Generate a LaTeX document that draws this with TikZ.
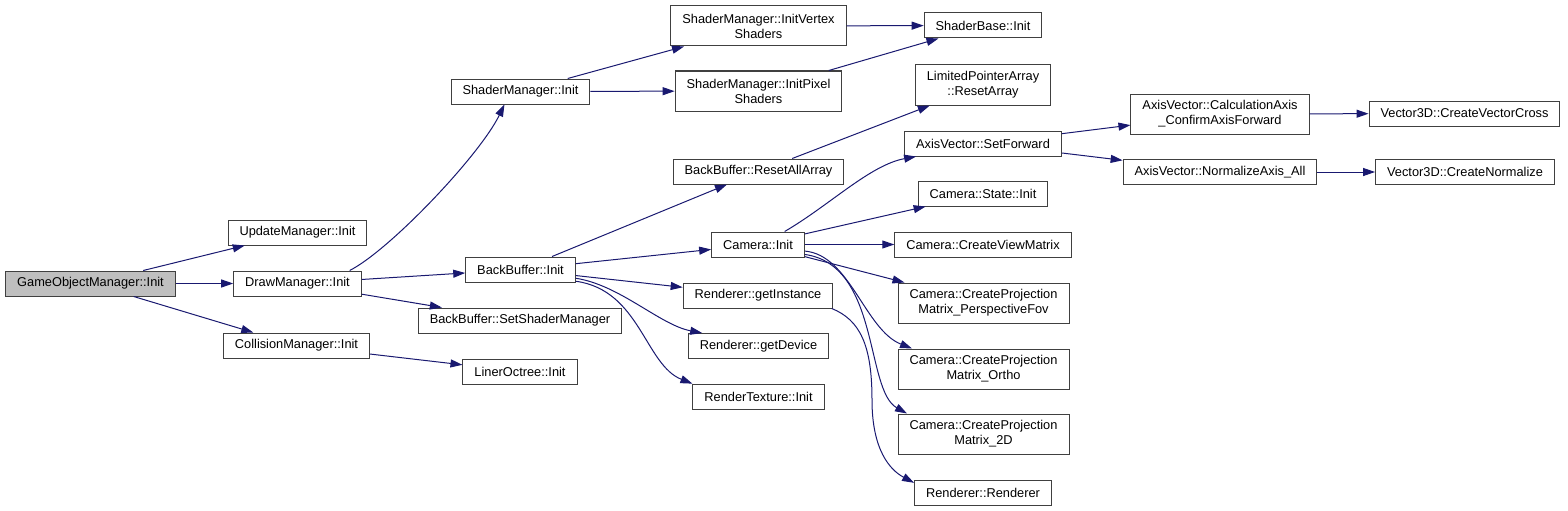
\documentclass[tikz,border=0pt]{standalone}
\usepackage{fontspec}
\setmainfont{Liberation Sans}
\usepackage{tikz}
\usetikzlibrary{arrows.meta,positioning}
\definecolor{edgeblue}{RGB}{25,25,112}
\definecolor{boxline}{RGB}{64,64,64}
\definecolor{rootgray}{RGB}{191,191,191}
\tikzset{
  fnbox/.style={rectangle,draw=boxline,fill=white,line width=1pt,inner xsep=11.5pt,inner ysep=1pt,
    minimum height=25pt,align=center,font=\fontsize{12.8}{15}\selectfont},
  fnboxtwo/.style={fnbox,minimum height=40pt},
  rootbox/.style={fnbox,fill=rootgray},
  callarr/.style={-{Triangle[length=12pt,width=8pt]},line width=1pt,color=edgeblue}
}

\begin{document}
\begin{tikzpicture}[x=1pt,y=-1pt]
  \useasboundingbox (0,0) rectangle (1568,511);

  %% Caller and first level
  \node[rootbox] (gom) at (90.5,283.5) {GameObjectManager::Init};
  \node[fnbox] (updm) at (297.5,232.5) {UpdateManager::Init};
  \node[fnbox] (drawm) at (297.5,283.5) {DrawManager::Init};
  \node[fnbox] (collm) at (296.5,345.5) {CollisionManager::Init};

  %% Second level
  \node[fnbox] (shdm) at (520.5,91.5) {ShaderManager::Init};
  \node[fnbox] (bbinit) at (520.5,269.5) {BackBuffer::Init};
  \node[fnbox] (bbsetshd) at (520,320.5) {BackBuffer::SetShaderManager};
  \node[fnbox] (octree) at (520,371.5) {LinerOctree::Init};

  %% Third level
  \node[fnboxtwo] (shdvtx) at (758.5,26) {ShaderManager::InitVertex\\Shaders};
  \node[fnboxtwo] (shdpix) at (758.5,91) {ShaderManager::InitPixel\\Shaders};
  \node[fnbox] (bbreset) at (758.5,171.5) {BackBuffer::ResetAllArray};
  \node[fnbox] (caminit) at (758,244.5) {Camera::Init};
  \node[fnbox] (rgetinst) at (758,295.5) {Renderer::getInstance};
  \node[fnbox] (rgetdev) at (758.5,346) {Renderer::getDevice};
  \node[fnbox] (rtexinit) at (758.5,396.5) {RenderTexture::Init};

  %% Fourth level
  \node[fnbox] (shdbase) at (983,25.5) {ShaderBase::Init};
  \node[fnboxtwo] (lpareset) at (983,85) {LimitedPointerArray\\::ResetArray};
  \node[fnbox] (setfwd) at (983,143.5) {AxisVector::SetForward};
  \node[fnbox] (camstate) at (983,193.5) {Camera::State::Init};
  \node[fnbox] (viewmtx) at (983,244.5) {Camera::CreateViewMatrix};
  \node[fnboxtwo] (projfov) at (983.5,303) {Camera::CreateProjection\\Matrix\_PerspectiveFov};
  \node[fnboxtwo] (projortho) at (983.5,369) {Camera::CreateProjection\\Matrix\_Ortho};
  \node[fnboxtwo] (proj2d) at (983.5,434) {Camera::CreateProjection\\Matrix\_2D};
  \node[fnbox] (rctor) at (983,492.5) {Renderer::Renderer};

  %% Fifth and sixth level
  \node[fnboxtwo] (calcaxis) at (1220,114) {AxisVector::CalculationAxis\\\_ConfirmAxisForward};
  \node[fnbox] (normaxis) at (1220,172) {AxisVector::NormalizeAxis\_All};
  \node[fnbox] (veccross) at (1464.5,113.5) {Vector3D::CreateVectorCross};
  \node[fnbox] (vecnorm) at (1465,172) {Vector3D::CreateNormalize};

  %% Calls
  \draw[callarr] (gom)--(updm); \draw[callarr] (gom)--(drawm); \draw[callarr] (gom)--(collm);
  \draw[callarr] (drawm.14) .. controls (390,250) and (480,155) .. (shdm.219);
  \draw[callarr] (drawm)--(bbinit); \draw[callarr] (drawm)--(bbsetshd);
  \draw[callarr] (collm)--(octree);
  \draw[callarr] (shdm)--(shdvtx); \draw[callarr] (shdm)--(shdpix);
  \draw[callarr] (shdvtx)--(shdbase); \draw[callarr] (shdpix)--(shdbase);
  \draw[callarr] (bbinit)--(bbreset); \draw[callarr] (bbreset)--(lpareset);
  \draw[callarr] (bbinit)--(caminit); \draw[callarr] (bbinit)--(rgetinst);
  \draw[callarr] (bbinit.351) .. controls (620,285) and (660,325) .. (rgetdev.167);
  \draw[callarr] (bbinit.348) .. controls (640,290) and (645,365) .. (rtexinit.169);
  \draw[callarr] (caminit.26.6) .. controls (830,205) and (870,165) .. (setfwd.191);
  \draw[callarr] (caminit)--(camstate); \draw[callarr] (caminit)--(viewmtx);
  \draw[callarr] (caminit)--(projfov);
  \draw[callarr] (caminit.352) .. controls (850,255) and (865,330) .. (projortho.164);
  \draw[callarr] (caminit.348) .. controls (880,265) and (865,390) .. (proj2d.165);
  \draw[callarr] (rgetinst.350) .. controls (860,320) and (872,345) .. (872,400)
    .. controls (872,450) and (890,470) .. (rctor.172);
  \draw[callarr] (setfwd)--(calcaxis); \draw[callarr] (setfwd)--(normaxis);
  \draw[callarr] (calcaxis)--(veccross); \draw[callarr] (normaxis)--(vecnorm);
\end{tikzpicture}
\end{document}
